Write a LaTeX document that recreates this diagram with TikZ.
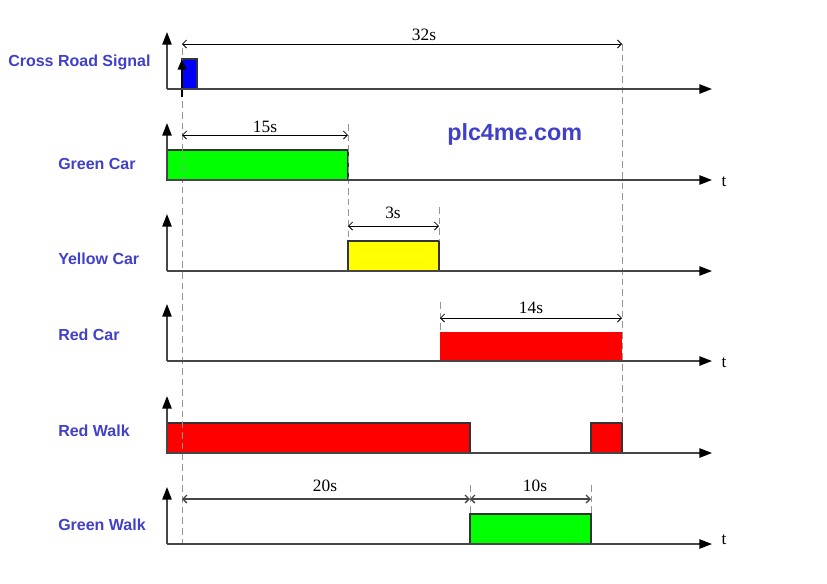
\documentclass[tikz,border=0pt]{standalone}
\usepackage{fontspec}
\setmainfont{Liberation Serif}
\newfontfamily\lblfont{Liberation Sans}
\usetikzlibrary{arrows.meta}
\definecolor{lblblue}{RGB}{64,64,200}
\definecolor{axisgray}{RGB}{70,70,70}
\definecolor{guidegray}{RGB}{150,150,150}
\definecolor{sigblue}{RGB}{0,0,255}
\definecolor{siggreen}{RGB}{0,255,0}
\definecolor{sigyellow}{RGB}{255,255,0}
\definecolor{sigred}{RGB}{255,0,0}
\begin{document}
\begin{tikzpicture}[x=0.75pt,y=-0.75pt,
  axisline/.style={draw=axisgray,line width=1.2pt,-{Triangle[length=9.5pt,width=7pt,color=black]}},
  pulse/.style={draw=black!80,line width=0.8pt},
  dimline/.style={draw=black,line width=0.6pt,{Straight Barb[length=3pt,width=6pt]}-{Straight Barb[length=3pt,width=6pt]}},
  guide/.style={draw=guidegray,line width=0.6pt,dash pattern=on 5pt off 3pt},
  lbl/.style={font=\lblfont\bfseries\fontsize{12}{14}\selectfont,text=lblblue,anchor=west,inner sep=0pt},
  dimlbl/.style={font=\fontsize{13}{15}\selectfont,inner sep=0pt},
  tlbl/.style={font=\fontsize{13}{15}\selectfont,inner sep=0pt}]
\useasboundingbox (0,0) rectangle (827,583);

% signal pulses
\draw[pulse,fill=sigblue] (182,59) rectangle (197,89);
\draw[pulse,fill=siggreen] (167,150) rectangle (348,180);
\draw[pulse,fill=sigyellow] (348,241) rectangle (439,271);
\fill[sigred] (440,332) rectangle (622,361);
\draw[pulse,fill=sigred] (167,423) rectangle (470,453);
\draw[pulse,fill=sigred] (591,423) rectangle (622,453);
\draw[pulse,fill=siggreen] (470,514) rectangle (591,544);

% guide coordinates
\coordinate (g1a) at (182,48);  \coordinate (g1b) at (182,546);
\coordinate (g2a) at (622,44);  \coordinate (g2b) at (622,423);
\coordinate (g3a) at (348,124); \coordinate (g3b) at (348,241);
\coordinate (g4a) at (439,207); \coordinate (g4b) at (439,241);
\coordinate (g5a) at (440,302); \coordinate (g5b) at (440,332);
\coordinate (g6a) at (470,485); \coordinate (g6b) at (470,514);
\coordinate (g7a) at (591,485); \coordinate (g7b) at (591,514);
\draw[guide] (g1a) -- (g1b);
\draw[guide] (g2a) -- (g2b);
\draw[guide] (g3a) -- (g3b);
\draw[guide] (g4a) -- (g4b);
\draw[guide] (g5a) -- (g5b);
\draw[guide] (g6a) -- (g6b);
\draw[guide] (g7a) -- (g7b);

% trigger arrow
\coordinate (tr0) at (182,97);
\coordinate (tr1) at (182,59);
\draw[line width=1pt,-{Triangle[length=8pt,width=6.5pt]}] (tr0) -- (tr1);

% axes
\foreach \n/\y in {1/89,2/180,3/271,4/361,5/453,6/544}{
  \coordinate (o\n) at (167,\y);
  \coordinate (x\n) at (712,\y);
  \coordinate (y\n) at (167,\y-57);
  \draw[axisline] (o\n) -- (x\n);
  \draw[axisline] (o\n) -- (y\n);
}

% dimension arrows
\coordinate (d1a) at (182,44);  \coordinate (d1b) at (622,44);
\coordinate (d2a) at (182,135); \coordinate (d2b) at (348,135);
\coordinate (d3a) at (348,226); \coordinate (d3b) at (439,226);
\coordinate (d4a) at (440,318); \coordinate (d4b) at (622,318);
\coordinate (d5a) at (182,499); \coordinate (d5b) at (470,499);
\coordinate (d6a) at (470,499); \coordinate (d6b) at (591,499);
\draw[dimline] (d1a) -- (d1b);
\node[dimlbl] (l32) at (424,35) {32s};
\draw[dimline] (d2a) -- (d2b);
\node[dimlbl] (l15) at (265,127) {15s};
\draw[dimline] (d3a) -- (d3b);
\node[dimlbl] (l3) at (393,213) {3s};
\draw[dimline] (d4a) -- (d4b);
\node[dimlbl] (l14) at (531,308) {14s};
\draw[dimline,draw=axisgray,line width=1pt] (d5a) -- (d5b);
\node[dimlbl] (l20) at (325,486) {20s};
\draw[dimline,draw=axisgray,line width=1pt] (d6a) -- (d6b);
\node[dimlbl] (l10) at (535,486) {10s};

% t labels
\node[tlbl] (t2) at (724,182) {t};
\node[tlbl] (t4) at (724,363) {t};
\node[tlbl] (t6) at (724,540) {t};

% signal names
\node[lbl] (n1) at (8,62) {Cross Road Signal};
\node[lbl] (n2) at (58,164) {Green Car};
\node[lbl] (n3) at (58,259) {Yellow Car};
\node[lbl] (n4) at (58,335) {Red Car};
\node[lbl] (n5) at (58,431) {Red Walk};
\node[lbl] (n6) at (58,525) {Green Walk};
\node[lbl,font=\lblfont\bfseries\fontsize{17.5}{20}\selectfont] (web) at (447,134) {plc4me.com};
\end{tikzpicture}
\end{document}
